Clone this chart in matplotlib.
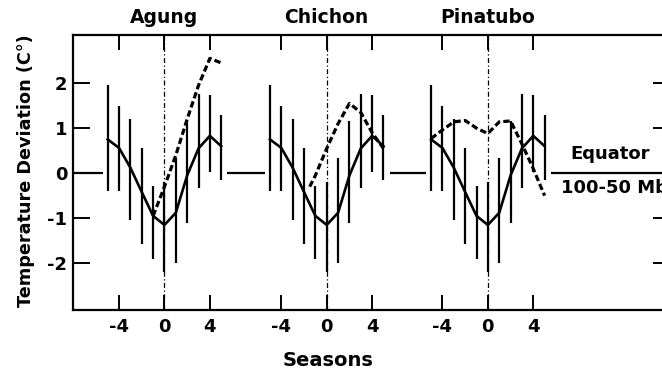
import matplotlib
matplotlib.use("Agg")
import matplotlib.pyplot as plt

# Composite curve (solid) with its error bars, the same in every panel
Seasons = [-5, -4, -3, -2, -1, 0, 1, 2, 3, 4, 5]
Mean_curve = [0.75, 0.56, 0.12, -0.42, -0.95, -1.15, -0.88, -0.05, 0.55, 0.83, 0.6]
Bar_top = [1.96, 1.5, 1.2, 0.57, -0.28, -0.2, 0.33, 1.15, 1.75, 1.73, 1.3]
Bar_bottom = [-0.4, -0.4, -1.05, -1.58, -1.9, -2.2, -2.0, -1.1, -0.32, 0.02, -0.15]

# Observed deviation after each eruption (dashed)
Agung_x = [-1, 0, 1, 2, 3, 4, 5]
Agung_y = [-0.95, -0.3, 0.4, 1.2, 1.95, 2.55, 2.45]
Chichon_x = [-1.5, -1, 0, 1, 2, 3, 4, 5]
Chichon_y = [-0.3, -0.05, 0.55, 1.1, 1.55, 1.35, 0.9, 0.55]
Pinatubo_x = [-5, -4, -3, -2, -1, 0, 1, 2, 3, 4, 5]
Pinatubo_y = [0.77, 0.96, 1.14, 1.17, 1.0, 0.88, 1.14, 1.16, 0.65, 0.1, -0.5]

Volcano_list = ["Agung", "Chichon", "Pinatubo"]
Dashed_x = [Agung_x, Chichon_x, Pinatubo_x]
Dashed_y = [Agung_y, Chichon_y, Pinatubo_y]
Tick_seasons = [-4, 0, 4]
Tick_labels = ["-4", "0", "4"]
Y_ticks = [-2, -1, 0, 1, 2]
Y_labels = ["-2", "-1", "0", "1", "2"]

# Layout of the three panels along one x axis
Offsets = [0, 14.3, 28.5]
Xmin, Xmax = -8.06, 44.55
Ymin, Ymax = -3.04, 3.07

plt.rcParams["font.family"] = "DejaVu Sans"
plt.rcParams["font.weight"] = "bold"

fig = plt.figure(figsize=(6.62, 3.74), dpi=100)
ax = fig.add_axes([73 / 662, 1 - 310 / 374, (670 - 73) / 662, 275 / 374])

xticks = []
xticklabels = []
for i, offset in enumerate(Offsets):
      xs = [s + offset for s in Seasons]
      ax.vlines(xs, Bar_bottom, Bar_top, color="k", lw=1.6)
      ax.plot(xs, Mean_curve, color="k", lw=1.9, solid_joinstyle="round")
      ax.plot([x + offset for x in Dashed_x[i]], Dashed_y[i], color="k", lw=2.3,
              linestyle=(0, (2.0, 1.0)))
      ax.axvline(offset, color="k", lw=0.9, linestyle=(0, (4, 2, 1, 2)))
      ax.text(offset, 1.062, Volcano_list[i], transform=ax.get_xaxis_transform(),
              ha="center", va="center", fontsize=13.5, fontweight="bold")
      xticks += [t + offset for t in Tick_seasons]
      xticklabels += Tick_labels

# Zero line pieces in the gaps between panels
Starts = [Xmin] + [o + 5.55 for o in Offsets]
Ends = [o - 5.45 for o in Offsets] + [Xmax]
ax.hlines([0] * len(Starts), Starts, Ends, color="k", lw=1.6)

ax.text(39.3, 0.42, "Equator", ha="center", va="center", fontsize=13, fontweight="bold")
ax.text(39.7, -0.33, "100-50 Mb", ha="center", va="center", fontsize=13, fontweight="bold",
        clip_on=False)

ax.set_xlim(Xmin, Xmax)
ax.set_ylim(Ymin, Ymax)
ax.set_xticks(xticks)
ax.set_xticklabels(xticklabels, fontsize=13, fontweight="bold")
ax.set_yticks(Y_ticks)
ax.set_yticklabels(Y_labels, fontsize=13, fontweight="bold")
ax.tick_params(axis="x", direction="in", top=True, length=10.5, width=1.4, pad=6)
ax.tick_params(axis="y", direction="in", right=True, length=12, width=1.4, pad=4)
for side in ["left", "bottom", "top", "right"]:
      ax.spines[side].set_linewidth(1.6)

fig.text(26 / 662, 1 - 171 / 374, "Temperature Deviation (C°)", rotation=90,
         ha="center", va="center", fontsize=12.7, fontweight="bold")
fig.text(328 / 662, 1 - 360 / 374, "Seasons", ha="center", va="center",
         fontsize=14, fontweight="bold")

fig.savefig("out.png", dpi=100)
plt.close()
